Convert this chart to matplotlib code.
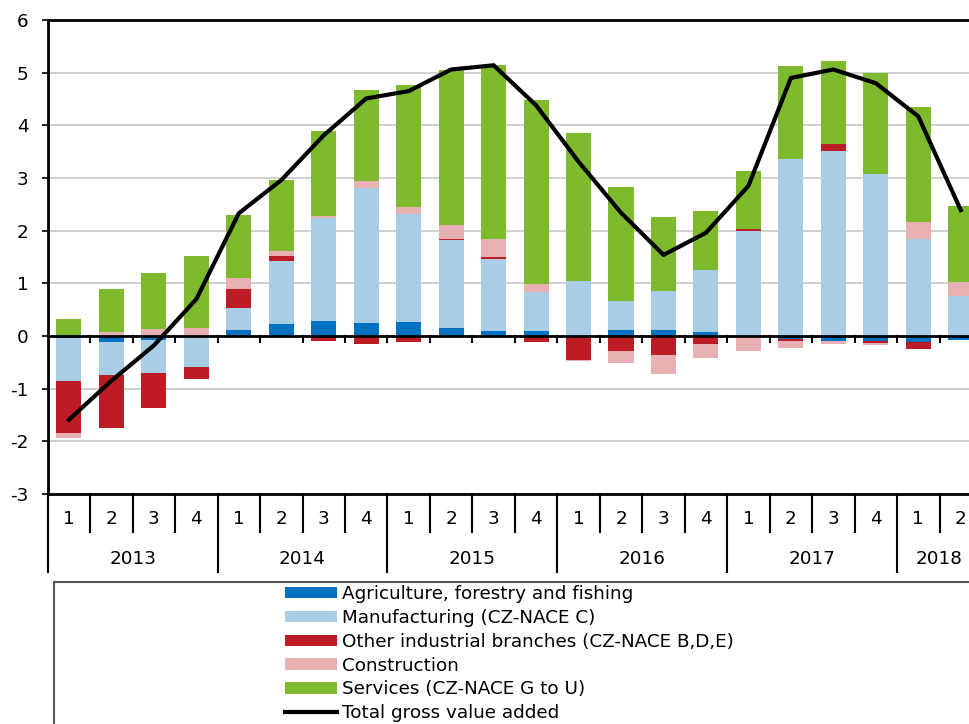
import matplotlib
matplotlib.use("Agg")
import matplotlib.pyplot as plt
from matplotlib.patches import Rectangle, Patch
from matplotlib.lines import Line2D
import matplotlib.transforms as mtransforms
import numpy as np

plt.rcParams['font.family'] = ['DejaVu Sans']
plt.rcParams['axes.unicode_minus'] = False
FS = 13.2

years = ["2013", "2014", "2015", "2016", "2017", "2018"]
quarter_labels = ["1", "2", "3", "4"] * 5 + ["1", "2"]

agri = [-0.04, -0.11, -0.08, 0.0, 0.11, 0.23, 0.28, 0.24, 0.27, 0.15, 0.09,
        0.09, 0.0, 0.12, 0.11, 0.08, 0.0, -0.06, -0.10, -0.10, -0.11, -0.08]
manuf = [-0.82, -0.63, -0.63, -0.59, 0.42, 1.19, 1.97, 2.57, 2.04, 1.68, 1.38,
         0.75, 1.04, 0.54, 0.74, 1.17, 2.00, 3.37, 3.51, 3.08, 1.84, 0.76]
other = [-0.98, -1.00, -0.65, -0.23, 0.36, 0.09, -0.09, -0.15, -0.12, 0.01, 0.03,
         -0.11, -0.46, -0.29, -0.37, -0.15, 0.04, -0.03, 0.13, -0.04, -0.14, 0.0]
constr = [-0.09, 0.07, 0.14, 0.16, 0.22, 0.10, 0.03, 0.13, 0.13, 0.26, 0.34,
          0.15, -0.02, -0.22, -0.35, -0.26, -0.29, -0.13, -0.06, -0.04, 0.32, 0.26]
services = [0.33, 0.82, 1.06, 1.35, 1.19, 1.35, 1.62, 1.73, 2.32, 2.96, 3.30,
            3.50, 2.81, 2.16, 1.41, 1.13, 1.09, 1.75, 1.59, 1.91, 2.19, 1.45]
total = [-1.59, -0.85, -0.18, 0.70, 2.33, 2.96, 3.81, 4.51, 4.65, 5.06, 5.14,
         4.38, 3.31, 2.34, 1.54, 1.96, 2.85, 4.90, 5.06, 4.80, 4.17, 2.39]

series_names = ["Agriculture, forestry and fishing", "Manufacturing (CZ-NACE C)",
                "Other industrial branches (CZ-NACE B,D,E)", "Construction",
                "Services (CZ-NACE G to U)"]
line_name = "Total gross value added"
colors = ["#0070c0", "#a7cde7", "#be1c24", "#e8b0b3", "#7eba2d"]

W, H = 969, 724
fig = plt.figure(figsize=(W / 100, H / 100), dpi=100)
ax_l, ax_r, ax_t, ax_b = 47.7, 982.0, 20.0, 494.0
ax = fig.add_axes([ax_l / W, 1 - ax_b / H, (ax_r - ax_l) / W, (ax_b - ax_t) / H])

n = len(total)
x = np.arange(n)
pos_base = np.zeros(n)
neg_base = np.zeros(n)
handles = []
for vals, name, c in zip([agri, manuf, other, constr, services], series_names, colors):
    v = np.array(vals)
    bottoms = np.where(v >= 0, pos_base, neg_base)
    ax.bar(x, v, bottom=bottoms, width=0.59, color=c, edgecolor='none', zorder=3)
    pos_base = pos_base + np.where(v >= 0, v, 0)
    neg_base = neg_base + np.where(v < 0, v, 0)
    handles.append(Patch(facecolor=c, edgecolor='none', label=name))

ax.plot(x, total, color='black', lw=3.0, zorder=5, solid_joinstyle='miter')
handles.append(Line2D([0], [0], color='black', lw=3.0, label=line_name))

ax.set_xlim(-0.5, n - 0.5)
ax.set_ylim(-3, 6)
ax.set_yticks(range(-3, 7))
ax.yaxis.grid(True, color='#c8c8c8', lw=1.2, zorder=0)
ax.set_axisbelow(True)
ax.axhline(0, color='black', lw=2, zorder=4)
for s in ['top', 'left', 'bottom']:
    ax.spines[s].set_linewidth(2)
ax.spines['right'].set_visible(False)
ax.tick_params(axis='y', direction='out', length=4.6, width=1.2, labelsize=FS, pad=9.2)
ax.set_xticks([])

# small ticks under the zero line at quarter boundaries
trans_z = mtransforms.blended_transform_factory(ax.transData, ax.transAxes)
zero_frac = (0 - (-3)) / 9
bounds = np.arange(n) + 0.5
for b in bounds:
    ax.plot([b, b], [zero_frac, zero_frac - 6 / 474], color='black', lw=1.5,
            transform=trans_z, zorder=4, clip_on=False)

# category table below axes
ax_h = ax_b - ax_t
q_len = 38 / ax_h
y_len = 78 / ax_h
for i in range(n + 1):
    b = i - 0.5
    is_year = (i % 4 == 0)
    L = y_len if is_year else q_len
    ax.plot([b, b], [0, -L], color='black', lw=1.5, transform=trans_z, clip_on=False)
for i, q in enumerate(quarter_labels):
    ax.text(i, -25 / ax_h, q, transform=trans_z, ha='center', va='center', fontsize=FS)
for k, yr in enumerate(years):
    idx = [i for i in range(n) if i // 4 == k]
    ax.text(np.mean(idx), -65 / ax_h, yr, transform=trans_z, ha='center', va='center',
            fontsize=FS)

# legend box
box = Rectangle((54 / W, -0.1), 1.2, 1 - 582 / H + 0.1, transform=fig.transFigure,
                facecolor='none', edgecolor='#555555', lw=1.5)
fig.patches.append(box)
fig.legend(handles=handles, loc='upper left', bbox_to_anchor=(285 / W, 1 - 585 / H),
           frameon=False, fontsize=FS, handlelength=2.85, handleheight=0.58,
           handletextpad=0.27, labelspacing=0.32, borderaxespad=0, borderpad=0)

fig.savefig("out.png", dpi=100)
